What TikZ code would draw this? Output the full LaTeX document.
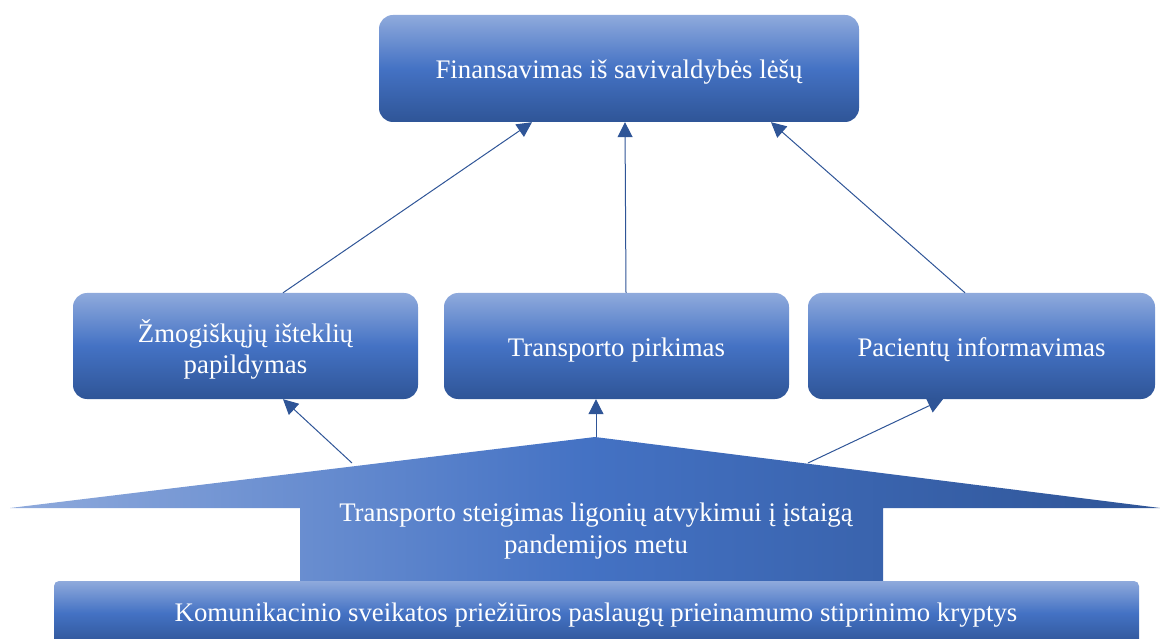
\documentclass[tikz,border=0pt]{standalone}
\usepackage{fontspec}
\setmainfont{Liberation Serif}
\usetikzlibrary{arrows.meta,calc}
\definecolor{blLight}{HTML}{8FAADC}
\definecolor{blMid}{HTML}{4472C4}
\definecolor{blDark}{HTML}{2F5597}
\definecolor{lineBlue}{HTML}{2F5597}
\tikzset{
  labelfont/.style={font=\fontsize{26.8}{31}\selectfont},
  boxtext/.style={text=white, align=center, labelfont, inner sep=0pt, yshift=-4pt},
  gradbox/.style={rounded corners=14pt, top color=blLight, bottom color=blDark,
    middle color=blMid, draw=none, inner sep=0pt},
  arr/.style={draw=lineBlue, line width=1pt,
    -{Triangle[length=15pt,width=15pt]}},
}
\begin{document}
\begin{tikzpicture}[x=1pt,y=-1pt]
\useasboundingbox (0,0) rectangle (1160,639);

% top level: funding
\node[gradbox, minimum width=480pt, minimum height=107pt,
  label={[boxtext]center:{Finansavimas iš savivaldybės lėšų}}] (top) at (619,68.5) {};

% middle level: measures
\node[gradbox, minimum width=345pt, minimum height=106pt,
  label={[boxtext,yshift=1pt]center:{Žmogiškųjų išteklių\\papildymas}}] (b1) at (245.5,346) {};
\node[gradbox, minimum width=345pt, minimum height=106pt,
  label={[boxtext]center:{Transporto pirkimas}}] (b2) at (616.5,346) {};
\node[gradbox, minimum width=347pt, minimum height=106pt,
  label={[boxtext]center:{Pacientų informavimas}}] (b3) at (981.5,346) {};

% base arrow shape
\path[left color=blLight, right color=blDark, middle color=blMid]
  (10,508) -- (595,437) -- (1160,508) -- (883,508) -- (883,581)
  -- (300,581) -- (300,508) -- cycle;
\node[text=white, align=center, font=\fontsize{26.8}{32}\selectfont] (goal) at (596,531)
  {Transporto steigimas ligonių atvykimui į įstaigą\\pandemijos metu};
\coordinate (sL) at (352,463);
\coordinate (sM) at (596,437);
\coordinate (sR) at (808,463);

% bottom bar: direction
\path[rounded corners=5pt, top color=blLight, bottom color=blDark, middle color=blMid]
  (54,645) -- (54,581) -- (1139,581) -- (1139,645) -- cycle;
\node[text=white, labelfont] (dir) at (596,615)
  {Komunikacinio sveikatos priežiūros paslaugų prieinamumo stiprinimo kryptys};

% connectors
\draw[arr] ([xshift=37.5pt]b1.north) -- ([xshift=-87pt]top.south);
\draw[arr] ([xshift=9.5pt]b2.north) -- ([xshift=6pt]top.south);
\draw[arr] ([xshift=-16.5pt]b3.north) -- ([xshift=152pt]top.south);
\draw[arr] (sL) -- ([xshift=37.5pt]b1.south);
\draw[arr] (sM) -- ([xshift=-20.5pt]b2.south);
\draw[arr] (sR) -- ([xshift=-38.5pt]b3.south);
\end{tikzpicture}
\end{document}
